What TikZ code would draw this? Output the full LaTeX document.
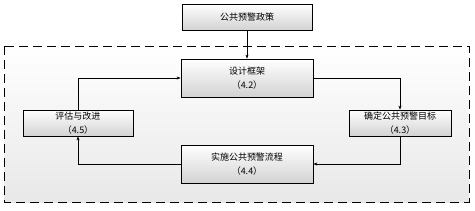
\documentclass[tikz,border=0pt]{standalone}
\usepackage{fontspec}
\setmainfont{Noto Sans CJK SC}
\usetikzlibrary{arrows.meta, shadows}

\begin{document}
\begin{tikzpicture}[x=1pt, y=-1pt,
		stagebox/.style={draw, thick, top color=white, bottom color=gray!35, align=center,
			font=\fontsize{9}{13.5}\selectfont, inner sep=0pt,
			drop shadow={shadow xshift=0.8pt, shadow yshift=-0.8pt, fill=gray!70}},
		flow/.style={-{Stealth[length=4pt, width=3pt]}, semithick}]
	\useasboundingbox (0,0) rectangle (475,210);
	% dashed frame of the cycle
	\draw[thick, dash pattern=on 9pt off 5pt, top color=white, bottom color=gray!18] (4,46) rectangle (469,202);
	\node[stagebox, minimum width=130pt, minimum height=26pt] (policy) at (247,17) {公共预警政策};
	\node[stagebox, minimum width=132pt, minimum height=38pt] (design) at (247,78) {设计框架\\（4.2）};
	\node[stagebox, minimum width=102pt, minimum height=26pt] (goal) at (400,123) {确定公共预警目标\\（4.3）};
	\node[stagebox, minimum width=132pt, minimum height=38pt] (impl) at (247,164) {实施公共预警流程\\（4.4）};
	\node[stagebox, minimum width=110pt, minimum height=26pt] (eval) at (78,123) {评估与改进\\（4.5）};
	% connectors
	\draw[flow] (policy) -- (design);
	\draw[flow] (design.east) -| (goal.north);
	\draw[flow] (goal.south) |- (impl.east);
	\draw[flow] (impl.west) -| (eval.south);
	\draw[flow] (eval.north) |- (design.west);
\end{tikzpicture}
\end{document}
